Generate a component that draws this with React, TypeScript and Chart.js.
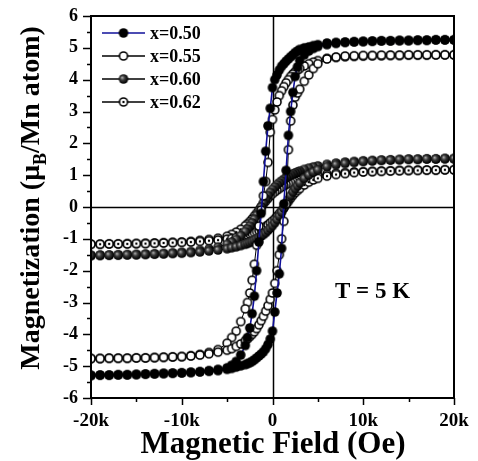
import React, { useEffect, useRef } from 'react';
import { Chart, registerables } from 'chart.js';

Chart.register(...registerables);

// ---- data (field in kOe, magnetization in μB/Mn atom) ----
const seriesLabels = ['x=0.50', 'x=0.55', 'x=0.60', 'x=0.62'];
const xTickLabels = ['-20k', '-10k', '0', '10k', '20k'];
const xTickValues = [-20, -10, 0, 10, 20];

// field sweep from +20k down to -20k (descending branch)
const fieldDown = [20, 19, 18, 17, 16, 15, 14, 13, 12, 11, 10, 9, 8, 7, 6, 5, 4.5, 4, 3.5,
  3, 2.75, 2.5, 2.25, 2, 1.75, 1.5, 1.25, 1, 0.75, 0.5, 0.25, 0, -0.25, -0.5, -0.75, -1, -1.25,
  -1.5, -1.75, -2, -2.25, -2.5, -2.75, -3, -3.5, -4, -4.5, -5, -6, -7, -8, -9, -10, -11, -12,
  -13, -14, -15, -16, -17, -18, -19, -20];
// field sweep from -20k up to +20k (ascending branch)
const fieldUp = [-20, -19, -18, -17, -16, -15, -14, -13, -12, -11, -10, -9, -8, -7, -6, -5, -4.5, -4, -3.5,
  -3, -2.75, -2.5, -2.25, -2, -1.75, -1.5, -1.25, -1, -0.75, -0.5, -0.25, 0, 0.25, 0.5, 0.75, 1, 1.25,
  1.5, 1.75, 2, 2.25, 2.5, 2.75, 3, 3.5, 4, 4.5, 5, 6, 7, 8, 9, 10, 11, 12,
  13, 14, 15, 16, 17, 18, 19, 20];

const m50Down = [5.25, 5.25, 5.25, 5.24, 5.24, 5.23, 5.23, 5.22, 5.22, 5.21, 5.2, 5.19, 5.18, 5.17, 5.15,
  5.1, 5.07, 5.03, 5.0,
  4.95, 4.9, 4.85, 4.78, 4.72, 4.65, 4.58, 4.5, 4.42, 4.3, 4.15, 4.0, 3.75, 3.1, 2.55, 1.75, 0.8, -0.2,
  -1.1, -2.0, -2.8, -3.35, -3.8, -4.1, -4.35,
  -4.65, -4.85, -4.97, -5.05,
  -5.1, -5.14, -5.17, -5.19, -5.21, -5.22, -5.23, -5.24, -5.25, -5.26, -5.27, -5.27, -5.28, -5.28, -5.29];
const m50Up = [-5.29, -5.28, -5.28, -5.27, -5.27, -5.26, -5.25, -5.24, -5.23, -5.22, -5.21, -5.2, -5.18, -5.16, -5.14,
  -5.1, -5.07, -5.03, -4.99,
  -4.95, -4.92, -4.89, -4.85, -4.8, -4.74, -4.68, -4.62, -4.55, -4.45, -4.32, -4.15, -3.9, -3.3, -2.7, -2.1, -1.3, 0.1,
  1.15, 2.25, 3.0, 3.6, 4.1, 4.4, 4.6,
  4.78, 4.9, 4.98, 5.04,
  5.1, 5.14, 5.17, 5.19, 5.2, 5.21, 5.22, 5.22, 5.23, 5.23, 5.24, 5.24, 5.25, 5.25, 5.25];

const m55Down = [4.78, 4.78, 4.78, 4.77, 4.77, 4.77, 4.76, 4.76, 4.75, 4.75, 4.74, 4.73, 4.72, 4.7, 4.67,
  4.6, 4.55, 4.5, 4.43,
  4.35, 4.3, 4.25, 4.18, 4.1, 4.0, 3.9, 3.78, 3.65, 3.5, 3.3, 3.05, 2.75, 2.35, 1.4, 0.8, 0.35, -0.1,
  -0.6, -1.2, -1.8, -2.3, -2.7, -3.0, -3.2,
  -3.6, -3.9, -4.1, -4.28,
  -4.48, -4.57, -4.63, -4.67, -4.7, -4.71, -4.72, -4.73, -4.74, -4.74, -4.75, -4.75, -4.75, -4.76, -4.76];
const m55Up = [-4.76, -4.76, -4.75, -4.75, -4.75, -4.74, -4.74, -4.73, -4.72, -4.71, -4.7, -4.68, -4.65, -4.61, -4.56,
  -4.5, -4.45, -4.38, -4.3,
  -4.2, -4.14, -4.07, -4.0, -3.92, -3.82, -3.7, -3.57, -3.43, -3.27, -3.1, -2.9, -2.7, -2.4, -2.0, -1.5, -1.0, -0.45,
  0.1, 1.8, 2.7, 3.2, 3.45, 3.58, 3.7,
  3.95, 4.15, 4.35, 4.5,
  4.65, 4.71, 4.74, 4.75, 4.76, 4.76, 4.77, 4.77, 4.77, 4.78, 4.78, 4.78, 4.78, 4.78, 4.78];

const m60Down = [1.52, 1.52, 1.51, 1.51, 1.5, 1.5, 1.49, 1.48, 1.47, 1.46, 1.45, 1.43, 1.41, 1.38, 1.34,
  1.29, 1.26, 1.22, 1.18,
  1.13, 1.1, 1.07, 1.04, 1.0, 0.96, 0.92, 0.87, 0.82, 0.76, 0.7, 0.63, 0.55, 0.46, 0.36, 0.25, 0.13, 0.0,
  -0.13, -0.26, -0.38, -0.5, -0.6, -0.69, -0.77,
  -0.9, -1.02, -1.1, -1.17,
  -1.26, -1.32, -1.36, -1.4, -1.42, -1.44, -1.46, -1.47, -1.48, -1.49, -1.5, -1.5, -1.51, -1.51, -1.52];
const m60Up = [-1.52, -1.52, -1.51, -1.51, -1.5, -1.5, -1.49, -1.48, -1.47, -1.46, -1.45, -1.43, -1.41, -1.38, -1.35,
  -1.31, -1.28, -1.25, -1.21,
  -1.17, -1.14, -1.11, -1.08, -1.04, -1.0, -0.96, -0.91, -0.86, -0.8, -0.73, -0.66, -0.58, -0.49, -0.39, -0.28, -0.16, -0.03,
  0.1, 0.23, 0.36, 0.48, 0.58, 0.67, 0.76,
  0.9, 1.01, 1.1, 1.17,
  1.27, 1.33, 1.37, 1.4, 1.43, 1.45, 1.47, 1.48, 1.49, 1.5, 1.5, 1.51, 1.51, 1.52, 1.52];

const m62Down = [1.17, 1.17, 1.16, 1.16, 1.16, 1.15, 1.15, 1.14, 1.13, 1.12, 1.11, 1.1, 1.08, 1.06, 1.03,
  0.99, 0.97, 0.94, 0.91,
  0.87, 0.85, 0.82, 0.8, 0.77, 0.74, 0.71, 0.67, 0.63, 0.58, 0.53, 0.48, 0.42, 0.35, 0.27, 0.19, 0.1, 0.0,
  -0.1, -0.2, -0.29, -0.38, -0.46, -0.53, -0.59,
  -0.7, -0.79, -0.86, -0.92,
  -0.98, -1.02, -1.05, -1.08, -1.1, -1.11, -1.12, -1.13, -1.14, -1.15, -1.15, -1.16, -1.16, -1.17, -1.17];
const m62Up = [-1.17, -1.17, -1.16, -1.16, -1.16, -1.15, -1.15, -1.14, -1.13, -1.12, -1.11, -1.1, -1.08, -1.06, -1.04,
  -1.01, -0.99, -0.96, -0.93,
  -0.9, -0.88, -0.85, -0.83, -0.8, -0.77, -0.74, -0.7, -0.66, -0.61, -0.56, -0.5, -0.44, -0.37, -0.29, -0.21, -0.12, -0.02,
  0.08, 0.18, 0.28, 0.37, 0.45, 0.52, 0.58,
  0.69, 0.78, 0.85, 0.9,
  0.97, 1.02, 1.05, 1.08, 1.1, 1.11, 1.12, 1.13, 1.14, 1.15, 1.15, 1.16, 1.16, 1.17, 1.17];

const downSeries = [m50Down, m55Down, m60Down, m62Down];
const upSeries = [m50Up, m55Up, m60Up, m62Up];
const lineColors = ['#10109a', '#000000', '#000000', '#000000'];
const markerKinds = ['filled', 'open', 'half', 'dot'];

const FONT = '"Liberation Serif", "Times New Roman", serif';

function makeMarker(kind: string): HTMLCanvasElement {
  const c = document.createElement('canvas');
  c.width = 12;
  c.height = 12;
  const g = c.getContext('2d')!;
  const cx = 6, cy = 6;
  if (kind === 'filled') {
    g.beginPath(); g.arc(cx, cy, 4.8, 0, Math.PI * 2); g.fillStyle = '#000'; g.fill();
  } else if (kind === 'half') {
    const grad = g.createRadialGradient(4.6, 4.6, 0, 5.5, 5.5, 5);
    grad.addColorStop(0, '#b8b8b8');
    grad.addColorStop(0.45, '#3a3a3a');
    grad.addColorStop(1, '#000');
    g.beginPath(); g.arc(cx, cy, 4.8, 0, Math.PI * 2); g.fillStyle = grad; g.fill();
  } else {
    g.beginPath(); g.arc(cx, cy, 4.0, 0, Math.PI * 2);
    g.fillStyle = '#fff'; g.fill();
    g.lineWidth = 1.6; g.strokeStyle = '#000'; g.stroke();
    if (kind === 'dot') {
      g.beginPath(); g.arc(cx, cy, 1.2, 0, Math.PI * 2); g.fillStyle = '#000'; g.fill();
    }
  }
  return c;
}

export default function App() {
  const ref = useRef<HTMLCanvasElement>(null);

  useEffect(() => {
    const canvas = ref.current!;
    const markers = markerKinds.map(makeMarker);

    const datasets = seriesLabels.map((label, i) => ({
      label,
      data: [
        ...fieldDown.map((f, k) => ({ x: f, y: downSeries[i][k] })),
        ...fieldUp.map((f, k) => ({ x: f, y: upSeries[i][k] })),
      ],
      showLine: true,
      borderColor: lineColors[i],
      borderWidth: i === 0 ? 1.6 : 1,
      pointStyle: markers[i],
      pointRadius: 4.5,
      pointHoverRadius: 4.5,
      backgroundColor: '#000',
      tension: 0,
    }));

    const decor = {
      id: 'decor',
      beforeDatasetsDraw(chart: any) {
        const { ctx, chartArea: a, scales } = chart;
        const x0 = Math.round(scales.x.getPixelForValue(0)) + 0.5;
        const y0 = Math.round(scales.y.getPixelForValue(0)) + 0.5;
        ctx.save();
        ctx.strokeStyle = '#000';
        ctx.lineWidth = 1.5;
        ctx.beginPath();
        ctx.moveTo(x0, a.top); ctx.lineTo(x0, a.bottom);
        ctx.moveTo(a.left, y0); ctx.lineTo(a.right, y0);
        ctx.stroke();
        ctx.restore();
      },
      afterDatasetsDraw(chart: any) {
        const { ctx, chartArea: a, scales } = chart;
        ctx.save();
        ctx.strokeStyle = '#000';
        ctx.lineWidth = 2;
        ctx.strokeRect(a.left, a.top, a.right - a.left, a.bottom - a.top);
        ctx.lineWidth = 1.5;
        ctx.beginPath();
        for (let v = -6; v <= 6; v += 0.5) {
          const y = Math.round(scales.y.getPixelForValue(v)) + 0.5;
          const len = Number.isInteger(v) ? 8 : 4;
          ctx.moveTo(a.left - len, y); ctx.lineTo(a.left, y);
        }
        for (let v = -20; v <= 20; v += 5) {
          const x = Math.round(scales.x.getPixelForValue(v)) + 0.5;
          const len = v % 10 === 0 ? 7 : 4;
          ctx.moveTo(x, a.bottom); ctx.lineTo(x, a.bottom + len);
        }
        ctx.stroke();

        // legend
        ctx.textBaseline = 'middle';
        ctx.textAlign = 'left';
        ctx.font = `bold 18px ${FONT}`;
        seriesLabels.forEach((lab, i) => {
          const y = 33 + i * 23;
          ctx.strokeStyle = lineColors[i];
          ctx.lineWidth = 1.6;
          ctx.beginPath(); ctx.moveTo(102, y); ctx.lineTo(145, y); ctx.stroke();
          ctx.drawImage(markers[i], 123.5 - 6, y - 6);
          ctx.fillStyle = '#000';
          ctx.fillText(lab, 150, y + 1);
        });

        // annotation
        ctx.font = `bold 23px ${FONT}`;
        ctx.textBaseline = 'alphabetic';
        ctx.fillText('T = 5 K', 335, 298);

        // x title
        ctx.font = `bold 31px ${FONT}`;
        ctx.textAlign = 'center';
        ctx.fillText('Magnetic Field (Oe)', 273, 453);

        // y title with subscript
        ctx.translate(38.5, 198);
        ctx.rotate(-Math.PI / 2);
        ctx.textAlign = 'left';
        const big = `bold 28px ${FONT}`;
        const small = `bold 18px ${FONT}`;
        const parts = [
          { t: 'Magnetization (\u03bc', f: big, dy: 0 },
          { t: 'B', f: small, dy: 7 },
          { t: '/Mn atom)', f: big, dy: 0 },
        ];
        let total = 0;
        parts.forEach((p) => { ctx.font = p.f; total += ctx.measureText(p.t).width; });
        let cx = -total / 2;
        parts.forEach((p) => {
          ctx.font = p.f;
          ctx.fillText(p.t, cx, p.dy);
          cx += ctx.measureText(p.t).width;
        });
        ctx.restore();
      },
    };

    const chart = new Chart(canvas, {
      type: 'scatter',
      data: { datasets: datasets as any },
      options: {
        responsive: false,
        animation: false,
        devicePixelRatio: 1,
        layout: { padding: { top: 16, right: 24, left: 0, bottom: 0 } },
        plugins: { legend: { display: false }, tooltip: { enabled: false } },
        events: [],
        scales: {
          x: {
            type: 'linear',
            min: -20,
            max: 20,
            grid: { display: false },
            border: { display: false },
            afterBuildTicks: (s: any) => { s.ticks = xTickValues.map((v) => ({ value: v })); },
            ticks: {
              padding: 4,
              color: '#000',
              font: { family: FONT, size: 19, weight: 'bold' },
              maxRotation: 0,
              callback: (v: any) => xTickLabels[xTickValues.indexOf(Number(v))] ?? '',
            },
            afterFit: (s: any) => { s.height = 63; },
          },
          y: {
            type: 'linear',
            min: -6,
            max: 6,
            grid: { display: false },
            border: { display: false },
            ticks: { stepSize: 1, padding: 5, color: '#000', font: { family: FONT, size: 18, weight: 'bold' } },
            afterFit: (s: any) => { s.width = 91; },
          },
        },
      },
      plugins: [decor],
    });
    return () => chart.destroy();
  }, []);

  return (
    <div style={{ position: 'absolute', left: 0, top: 0, width: 478, height: 461, background: '#fff' }}>
      <canvas ref={ref} width={478} height={461} style={{ display: 'block' }} />
    </div>
  );
}
